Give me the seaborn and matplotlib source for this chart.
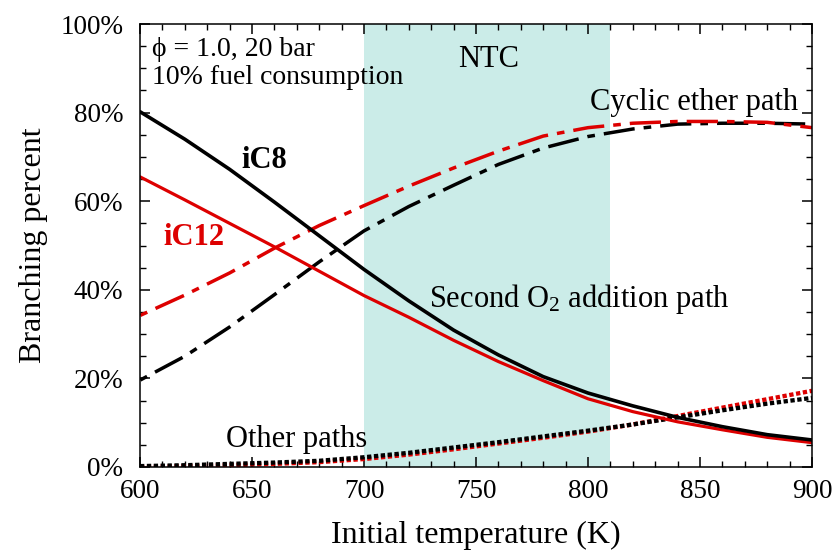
import numpy as np
import pandas as pd
import matplotlib
matplotlib.use("Agg")
import matplotlib.pyplot as plt
from matplotlib.ticker import MultipleLocator, FuncFormatter
import seaborn as sns

# ---- data ----
temperature = [600, 620, 640, 660, 680, 700, 720, 740, 760, 780, 800, 820, 840, 860, 880, 900]

ic8_second_o2 = [80.2, 74.0, 67.2, 59.8, 52.2, 44.6, 37.5, 30.9, 25.3, 20.4, 16.7, 13.8, 11.2, 9.1, 7.3, 6.1]
ic12_second_o2 = [65.5, 60.3, 55.0, 49.7, 44.2, 38.7, 33.8, 28.6, 23.8, 19.5, 15.4, 12.5, 10.2, 8.4, 6.7, 5.5]

ic8_cyclic_ether = [19.6, 25.0, 31.6, 38.9, 46.3, 53.3, 58.8, 63.6, 68.3, 72.0, 74.6, 76.3, 77.4, 77.6, 77.6, 77.4]
ic12_cyclic_ether = [34.2, 38.8, 43.8, 49.4, 54.5, 59.0, 63.4, 67.5, 71.3, 74.7, 76.6, 77.6, 78.0, 78.0, 77.8, 76.6]

ic8_other = [0.2, 0.4, 0.7, 1.0, 1.4, 2.2, 3.2, 4.4, 5.6, 6.9, 8.2, 9.6, 11.2, 12.8, 14.3, 15.6]
ic12_other = [0.0, 0.2, 0.4, 0.7, 1.1, 1.8, 2.8, 4.0, 5.3, 6.6, 8.0, 9.6, 11.5, 13.4, 15.3, 17.2]

ntc_range = [700, 810]
x_ticks = [600, 650, 700, 750, 800, 850, 900]
y_ticks = [0, 20, 40, 60, 80, 100]

BLACK = "#000000"
RED = "#dd0000"

sns.set_theme(style="ticks")
plt.rcParams["font.family"] = ["Liberation Serif", "DejaVu Serif"]
plt.rcParams["mathtext.fontset"] = "custom"
plt.rcParams["mathtext.rm"] = "Liberation Serif"
plt.rcParams["mathtext.default"] = "regular"
plt.rcParams["text.color"] = "black"
plt.rcParams["axes.labelcolor"] = "black"
plt.rcParams["xtick.color"] = "black"
plt.rcParams["ytick.color"] = "black"

fig = plt.figure(figsize=(8.39, 5.54), dpi=100)
ax = fig.add_axes([140 / 839, 1 - 467 / 554, (812 - 140) / 839, (467 - 24) / 554])

ax.axvspan(ntc_range[0], ntc_range[1], color="#cbece8", lw=0, zorder=0)

series = [
    (ic8_cyclic_ether, BLACK, "dashdot", 2.5),
    (ic12_cyclic_ether, RED, "dashdot", 2.5),
    (ic12_other, RED, "dot", 3.1),
    (ic8_other, BLACK, "dot", 3.1),
    (ic12_second_o2, RED, "solid", 2.3),
    (ic8_second_o2, BLACK, "solid", 2.6),
]
for vals, col, style, lw in series:
    df = pd.DataFrame({"T": temperature, "v": vals})
    sns.lineplot(data=df, x="T", y="v", ax=ax, color=col, lw=lw, sort=False)
    line = ax.lines[-1]
    if style == "dashdot":
        line.set_linestyle((11.5, (9.0, 2.6, 2.2, 2.6)))
        line.set_dash_capstyle("butt")
    elif style == "dot":
        line.set_dashes((1.0, 0.6))
        line.set_dash_capstyle("butt")

ax.set_xlim(600, 900)
ax.set_ylim(0, 100)
ax.set_xticks(x_ticks)
ax.set_yticks(y_ticks)
ax.xaxis.set_minor_locator(MultipleLocator(10))
ax.yaxis.set_minor_locator(MultipleLocator(5))
ax.yaxis.set_major_formatter(FuncFormatter(lambda v, p: f"{v:.0f}%"))
ax.tick_params(which="both", direction="in", top=True, right=True, color="black")
ax.tick_params(which="major", length=7, width=1.1, labelsize=19.5, pad=9)
ax.tick_params(which="minor", length=4.5, width=1.0)
ax.tick_params(axis="y", which="major", pad=12)
for s in ax.spines.values():
    s.set_color("black")
    s.set_linewidth(1.1)

ax.set_xlabel("Initial temperature (K)", fontsize=23, labelpad=12)
ax.set_ylabel("Branching percent", fontsize=23, labelpad=9)

ax.text(605.5, 94.3, "\u03d5 = 1.0, 20 bar", fontsize=20, va="center", ha="left")
ax.text(605.5, 88.0, "10% fuel consumption", fontsize=20, va="center", ha="left")
ax.text(755.5, 92.0, "NTC", fontsize=22, va="center", ha="center")
ax.text(655.5, 69.3, "iC8", fontsize=22, fontweight="bold", va="center", ha="center")
ax.text(624.0, 51.7, "iC12", fontsize=22, fontweight="bold", color=RED, va="center", ha="center")
ax.text(847.5, 82.2, "Cyclic ether path", fontsize=22, va="center", ha="center")
ax.text(796.0, 38.0, "Second O$_2$ addition path", fontsize=22, va="center", ha="center")
ax.text(670.0, 6.3, "Other paths", fontsize=22, va="center", ha="center")

fig.savefig("out.png", dpi=100)
